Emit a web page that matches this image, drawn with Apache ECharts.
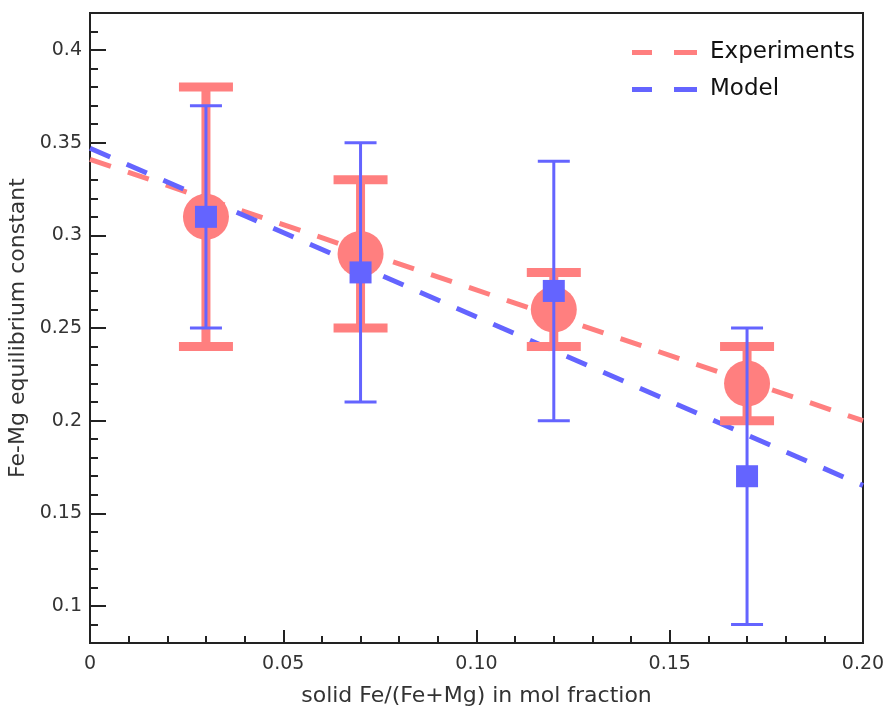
<!DOCTYPE html>
<html>
<head>
<meta charset="utf-8">
<script src="https://cdn.jsdelivr.net/npm/echarts@6/dist/echarts.min.js"></script>
<style>
html,body{margin:0;padding:0;background:#fff;}
#c{width:887px;height:706px;}
</style>
</head>
<body>
<div id="c"></div>
<script>
// ---- data ----
const xs = [0.03, 0.07, 0.12, 0.17];
const expY = [0.31, 0.29, 0.26, 0.22];
const expLow = [0.24, 0.25, 0.24, 0.20];
const expHigh = [0.38, 0.33, 0.28, 0.24];
const modelY = [0.31, 0.28, 0.27, 0.17];
const modelLow = [0.25, 0.21, 0.20, 0.09];
const modelHigh = [0.37, 0.35, 0.34, 0.25];
const fitX = [0, 0.20];
const expFitY = [0.341, 0.200];
const modelFitY = [0.347, 0.165];

// ---- ticks ----
const xTickValues = [0, 0.05, 0.10, 0.15, 0.20];
const xTickLabels = ['0', '0.05', '0.10', '0.15', '0.20'];
const yTickValues = [0.1, 0.15, 0.2, 0.25, 0.3, 0.35, 0.4];
const yTickLabels = ['0.1', '0.15', '0.2', '0.25', '0.3', '0.35', '0.4'];
const yMinorTicks = [0.09, 0.11, 0.12, 0.13, 0.14, 0.16, 0.17, 0.18, 0.19, 0.21, 0.22, 0.23, 0.24,
  0.26, 0.27, 0.28, 0.29, 0.31, 0.32, 0.33, 0.34, 0.36, 0.37, 0.38, 0.39, 0.41];

const RED = '#ff7f7f';
const BLUE = '#6464ff';
const AX = '#222';
const FONT = 'DejaVu Sans';

function errRender(color, lw, capW, capLw) {
  return function (params, api) {
    const x = api.value(0), lo = api.value(1), hi = api.value(2);
    const p1 = api.coord([x, lo]);
    const p2 = api.coord([x, hi]);
    const h = capW / 2;
    return {
      type: 'group',
      children: [
        {type: 'line', shape: {x1: p1[0], y1: p1[1], x2: p2[0], y2: p2[1]}, style: {stroke: color, lineWidth: lw}},
        {type: 'line', shape: {x1: p1[0] - h, y1: p1[1], x2: p1[0] + h, y2: p1[1]}, style: {stroke: color, lineWidth: capLw}},
        {type: 'line', shape: {x1: p2[0] - h, y1: p2[1], x2: p2[0] + h, y2: p2[1]}, style: {stroke: color, lineWidth: capLw}}
      ]
    };
  };
}

const chart = echarts.init(document.getElementById('c'), null, {renderer: 'canvas'});
const legendIcon = 'path://M0,0L20,0L20,5L0,5Z M42,0L65,0L65,5L42,5Z';

chart.setOption({
  animation: false,
  textStyle: {fontFamily: FONT},
  grid: {left: 90, right: 24, top: 13, bottom: 63, containLabel: false, outerBoundsMode: 'none',
    show: true, borderColor: AX, borderWidth: 2, backgroundColor: 'transparent'},
  legend: {
    orient: 'vertical', left: 627, top: 36, itemWidth: 65, itemHeight: 5, itemGap: 14,
    textStyle: {fontFamily: FONT, fontSize: 23, color: '#111', padding: [0, 0, 0, 8]},
    data: [{name: 'Experiments', icon: legendIcon}, {name: 'Model', icon: legendIcon}]
  },
  xAxis: [{
    type: 'value', min: 0, max: 0.2, interval: 0.05,
    name: 'solid Fe/(Fe+Mg) in mol fraction', nameLocation: 'middle', nameGap: 42,
    nameTextStyle: {fontFamily: FONT, fontSize: 22, color: '#333'},
    axisLine: {show: true, lineStyle: {color: AX, width: 2}},
    axisTick: {show: true, inside: true, length: 13, lineStyle: {color: AX, width: 2}},
    minorTick: {show: true, splitNumber: 5, length: 7, lineStyle: {color: AX, width: 2}},
    axisLabel: {fontFamily: FONT, fontSize: 19, color: '#333', margin: 12,
      formatter: function (v) { const i = xTickValues.findIndex(t => Math.abs(t - v) < 1e-9); return i >= 0 ? xTickLabels[i] : ''; }},
    splitLine: {show: false}
  }],
  yAxis: [{
    type: 'value', min: 0.08, max: 0.42, position: 'left',
    name: 'Fe-Mg equilibrium constant', nameLocation: 'middle', nameGap: 53,
    nameTextStyle: {fontFamily: FONT, fontSize: 22, color: '#333'},
    axisLine: {show: true, lineStyle: {color: AX, width: 2}},
    axisTick: {show: true, inside: true, length: 16, customValues: yTickValues, lineStyle: {color: AX, width: 2}},
    axisLabel: {fontFamily: FONT, fontSize: 19, color: '#333', margin: 8, customValues: yTickValues,
      formatter: function (v) { const i = yTickValues.findIndex(t => Math.abs(t - v) < 1e-9); return i >= 0 ? yTickLabels[i] : ''; }},
    splitLine: {show: false}
  }, {
    type: 'value', min: 0.08, max: 0.42, position: 'left', offset: 0,
    axisLine: {show: false},
    axisTick: {show: true, inside: true, length: 8, customValues: yMinorTicks, lineStyle: {color: AX, width: 2}},
    axisLabel: {show: false},
    splitLine: {show: false}
  }],
  series: [
    {
      name: 'Experiments', type: 'line', symbol: 'none', z: 2,
      data: fitX.map((x, i) => [x, expFitY[i]]),
      lineStyle: {color: RED, width: 5, type: [22, 18]}, itemStyle: {color: RED}
    },
    {
      name: 'Model', type: 'line', symbol: 'none', z: 2,
      data: fitX.map((x, i) => [x, modelFitY[i]]),
      lineStyle: {color: BLUE, width: 5, type: [22, 18]}, itemStyle: {color: BLUE}
    },
    {
      name: 'exp-err', type: 'custom', z: 3,
      renderItem: errRender(RED, 9, 54, 9),
      data: xs.map((x, i) => [x, expLow[i], expHigh[i]])
    },
    {
      name: 'exp-pts', type: 'scatter', symbol: 'circle', symbolSize: 46, z: 4,
      itemStyle: {color: RED, opacity: 1},
      data: xs.map((x, i) => [x, expY[i]])
    },
    {
      name: 'model-err', type: 'custom', z: 5,
      renderItem: errRender(BLUE, 3, 32, 3),
      data: xs.map((x, i) => [x, modelLow[i], modelHigh[i]])
    },
    {
      name: 'model-pts', type: 'scatter', symbol: 'rect', symbolSize: 22, z: 6,
      itemStyle: {color: BLUE, opacity: 1},
      data: xs.map((x, i) => [x, modelY[i]])
    }
  ]
});
</script>
</body>
</html>
